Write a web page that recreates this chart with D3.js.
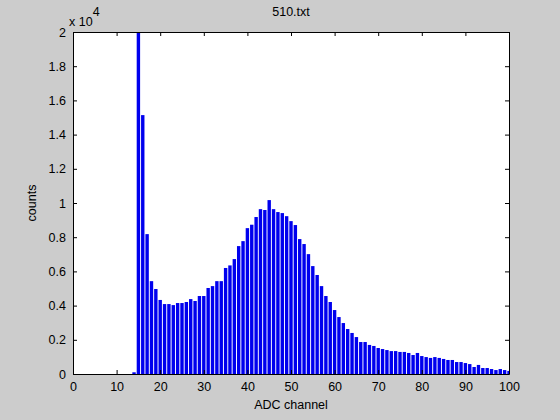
<!DOCTYPE html>
<html>
<head>
<meta charset="utf-8">
<script src="https://cdn.jsdelivr.net/npm/d3@7"></script>
<style>
  html, body { margin: 0; padding: 0; background: #cccccc; }
  svg { display: block; font-family: "Liberation Sans", Arial, sans-serif; }
</style>
</head>
<body>
<svg id="chart" width="560" height="420"></svg>
<script>
// ADC channels 1..100
const channels = d3.range(1, 101);

// counts per channel (channel 15 runs past the top)
const counts = [
  0, 0, 0, 0, 0, 0, 0, 0, 0, 0,
  0, 0, 0, 100, 25000, 15140, 8180, 5430, 4970, 4330,
  4090, 4090, 4030, 4150, 4150, 4210, 4380, 4270, 4560, 4560,
  5030, 5140, 5430, 5430, 6200, 6350, 6720, 7480, 7770, 8530,
  8730, 9180, 9640, 9590, 10170, 9640, 9470, 9410, 9230, 8940,
  8710, 7890, 7600, 7010, 6310, 5790, 5140, 4560, 4210, 3740,
  3330, 2980, 2630, 2400, 2160, 1870, 1870, 1700, 1640, 1520,
  1460, 1400, 1340, 1340, 1290, 1290, 1230, 1110, 1230, 1050,
  990, 940, 990, 940, 880, 820, 820, 700, 700, 640,
  580, 410, 530, 350, 350, 290, 230, 290, 230, 180
];

const xTicks = d3.range(0, 101, 10);
const yTicks = d3.range(0, 20001, 2000);
const yTickLabels = ['0', '0.2', '0.4', '0.6', '0.8', '1', '1.2', '1.4', '1.6', '1.8', '2'];

const titleText = '510.txt';
const xLabelText = 'ADC channel';
const yLabelText = 'counts';

// plot box, MATLAB default axes position
const margin = { top: 32, right: 51, bottom: 46, left: 73 };
const width = 560 - margin.left - margin.right;
const height = 420 - margin.top - margin.bottom;

const svg = d3.select('#chart');

const g = svg.append('g')
  .attr('transform', `translate(${margin.left},${margin.top})`);

const xScale = d3.scaleLinear().domain([0, 100]).range([0, width]);
const yScale = d3.scaleLinear().domain([0, 20000]).range([height, 0]);

// white plot area
g.append('rect')
  .attr('width', width)
  .attr('height', height)
  .attr('fill', '#ffffff');

g.append('clipPath')
  .attr('id', 'plot-clip')
  .append('rect')
  .attr('width', width)
  .attr('height', height);

// bars, width 0.8 of a channel
const barW = xScale(0.78) - xScale(0);
g.append('g')
  .attr('clip-path', 'url(#plot-clip)')
  .selectAll('rect')
  .data(channels.map((c, i) => ({ c: c, v: counts[i] })))
  .enter()
  .append('rect')
  .attr('x', d => xScale(d.c) - barW / 2)
  .attr('y', d => yScale(d.v))
  .attr('width', barW)
  .attr('height', d => yScale(0) - yScale(d.v))
  .attr('fill', '#0000ee');

// axes, ticks inside on all four sides
const tickLen = 4;
const fontSize = 12.5;

const xBottom = g.append('g')
  .attr('transform', `translate(0,${height})`)
  .call(d3.axisBottom(xScale).tickValues(xTicks).tickSizeInner(-tickLen).tickSizeOuter(0).tickPadding(8));
const xTop = g.append('g')
  .call(d3.axisTop(xScale).tickValues(xTicks).tickSizeInner(-tickLen).tickSizeOuter(0).tickFormat(''));
const yLeft = g.append('g')
  .call(d3.axisLeft(yScale).tickValues(yTicks).tickSizeInner(-tickLen).tickSizeOuter(0).tickPadding(7)
    .tickFormat((d, i) => yTickLabels[i]));
const yRight = g.append('g')
  .attr('transform', `translate(${width},0)`)
  .call(d3.axisRight(yScale).tickValues(yTicks).tickSizeInner(-tickLen).tickSizeOuter(0).tickFormat(''));

[xBottom, xTop, yLeft, yRight].forEach(ax => {
  ax.select('.domain').attr('stroke', '#000').attr('stroke-width', 1);
  ax.selectAll('.tick line').attr('stroke', '#000');
  ax.selectAll('.tick text')
    .attr('fill', '#000')
    .style('font-size', fontSize + 'px')
    .style('font-family', '"Liberation Sans", Arial, sans-serif');
});

// exponent label
const expo = svg.append('text')
  .attr('x', margin.left - 4)
  .attr('y', margin.top - 6)
  .attr('font-size', fontSize)
  .attr('fill', '#000');
expo.append('tspan').text('x 10');
expo.append('tspan')
  .attr('dy', -10)
  .attr('font-size', fontSize)
  .text('4');

// title and axis labels
svg.append('text')
  .attr('x', margin.left + width / 2)
  .attr('y', margin.top - 16)
  .attr('text-anchor', 'middle')
  .attr('font-size', fontSize)
  .attr('fill', '#000')
  .text(titleText);

svg.append('text')
  .attr('x', margin.left + width / 2)
  .attr('y', margin.top + height + 35)
  .attr('text-anchor', 'middle')
  .attr('font-size', fontSize)
  .attr('fill', '#000')
  .text(xLabelText);

svg.append('text')
  .attr('transform', `translate(${margin.left - 37},${margin.top + height / 2}) rotate(-90)`)
  .attr('text-anchor', 'middle')
  .attr('font-size', fontSize)
  .attr('fill', '#000')
  .text(yLabelText);
</script>
</body>
</html>
